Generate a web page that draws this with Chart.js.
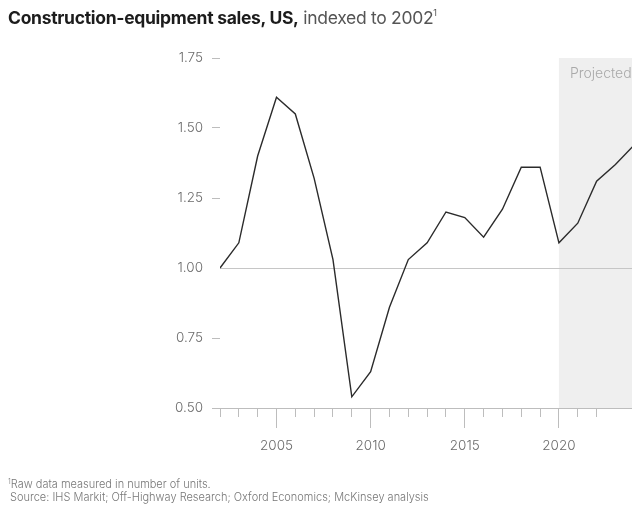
<!DOCTYPE html>
<html>
<head>
<meta charset="utf-8">
<script src="https://cdn.jsdelivr.net/npm/chart.js@4.4.1/dist/chart.umd.min.js"></script>
<style>
    body { margin: 0; background: #fff; overflow: hidden; }
    #wrap { position: relative; width: 632px; height: 508px; font-family: Inter, "Liberation Sans", sans-serif; }
    #salesChart { position: absolute; left: 0; top: 0; }
    .title { position: absolute; left: 8px; top: 7px; font-size: 17.5px; white-space: nowrap; letter-spacing: -0.3px; }
    .title b { color: #1c1c1c; font-weight: 700; }
    .title span { color: #555; font-weight: 400; }
    .title sup { font-size: 9px; vertical-align: 8px; }
    .note { position: absolute; font-size: 11px; color: #777; white-space: nowrap; font-weight: 300; }
    .note sup { font-size: 7px; vertical-align: 4px; }
</style>
</head>
<body>
<div id="wrap">
    <canvas id="salesChart" width="632" height="508"></canvas>
    <div class="title"><b>Construction-equipment sales, US,</b> <span>indexed to 2002<sup>1</sup></span></div>
    <div class="note" style="left:8px; top:477px;"><sup>1</sup>Raw data measured in number of units.</div>
    <div class="note" style="left:10px; top:490px;">Source: IHS Markit; Off-Highway Research; Oxford Economics; McKinsey analysis</div>
</div>

<script>

// =====================
// DATA
// =====================

const YEARS = [
    2002, 2003, 2004, 2005, 2006, 2007, 2008, 2009, 2010, 2011, 2012, 2013,
    2014, 2015, 2016, 2017, 2018, 2019, 2020, 2021, 2022, 2023, 2024
];

const SALES_INDEX = [
    1.00, 1.09, 1.40, 1.61, 1.55, 1.32, 1.03, 0.54, 0.63, 0.86, 1.03, 1.09,
    1.20, 1.18, 1.11, 1.21, 1.36, 1.36, 1.09, 1.16, 1.31, 1.37, 1.44
];

const Y_TICKS = [0.50, 0.75, 1.00, 1.25, 1.50, 1.75];

const PROJECTED_FROM = 2020;
const PROJECTED_LABEL = 'Projected';


// =====================
// SHADED FORECAST BAND
// =====================

const projectedShade = {
    id: 'projectedShade',
    beforeDraw(chart) {
        const { ctx, chartArea, scales } = chart;
        const left = scales.x.getPixelForValue(PROJECTED_FROM);
        ctx.save();
        ctx.fillStyle = '#efefef';
        ctx.fillRect(left, chartArea.top, chartArea.right - left, chartArea.bottom - chartArea.top);
        ctx.fillStyle = '#a9a9a9';
        ctx.font = '300 14px Inter';
        ctx.textBaseline = 'middle';
        ctx.fillText(PROJECTED_LABEL, left + 11, chartArea.top + 16);
        ctx.restore();
    }
};


// =====================
// CHART
// =====================

const tickFont = { family: 'Inter', size: 13.5, weight: 300 };

new Chart(document.getElementById('salesChart'), {
    type: 'line',
    data: {
        datasets: [{
            data: YEARS.map((y, i) => ({ x: y, y: SALES_INDEX[i] })),
            borderColor: '#2b2b2b',
            borderWidth: 1.4,
            pointRadius: 0,
            tension: 0
        }]
    },
    options: {
        responsive: false,
        maintainAspectRatio: false,
        animation: false,
        layout: { padding: { top: 58, right: 0, bottom: 0, left: 0 } },
        plugins: {
            legend: { display: false },
            tooltip: { enabled: false }
        },
        scales: {
            x: {
                type: 'linear',
                min: 2002,
                max: 2023.88,
                afterFit: s => {
                    s.height = 100;
                    s.paddingLeft = 0;
                    s.paddingRight = 0;
                },
                border: { display: true, color: '#bdbdbd', width: 1 },
                grid: {
                    drawOnChartArea: false,
                    tickLength: 20,
                    tickWidth: 1,
                    tickColor: c => Number.isInteger(c.tick.value) ? '#bdbdbd' : 'transparent',
                    tickBorderDash: c => c.tick.value % 5 === 0 ? [] : [8, 40]
                },
                ticks: {
                    stepSize: 1,
                    autoSkip: false,
                    maxRotation: 0,
                    padding: 10,
                    color: '#6b6b6b',
                    font: tickFont,
                    callback: v => v % 5 === 0 ? String(v) : ''
                }
            },
            y: {
                min: Y_TICKS[0],
                max: Y_TICKS[Y_TICKS.length - 1],
                afterFit: s => { s.width = 220; },
                afterBuildTicks: s => { s.ticks = Y_TICKS.map(v => ({ value: v })); },
                border: { display: false },
                grid: {
                    drawOnChartArea: true,
                    tickLength: 8,
                    color: c => c.tick && c.tick.value === 1 ? '#c6c6c6' : 'transparent',
                    tickColor: c => c.tick && c.tick.value === 1 ? 'transparent' : '#bdbdbd'
                },
                ticks: {
                    padding: 9,
                    color: '#6b6b6b',
                    font: tickFont,
                    callback: v => v.toFixed(2)
                }
            }
        }
    },
    plugins: [projectedShade]
});

</script>
</body>
</html>
